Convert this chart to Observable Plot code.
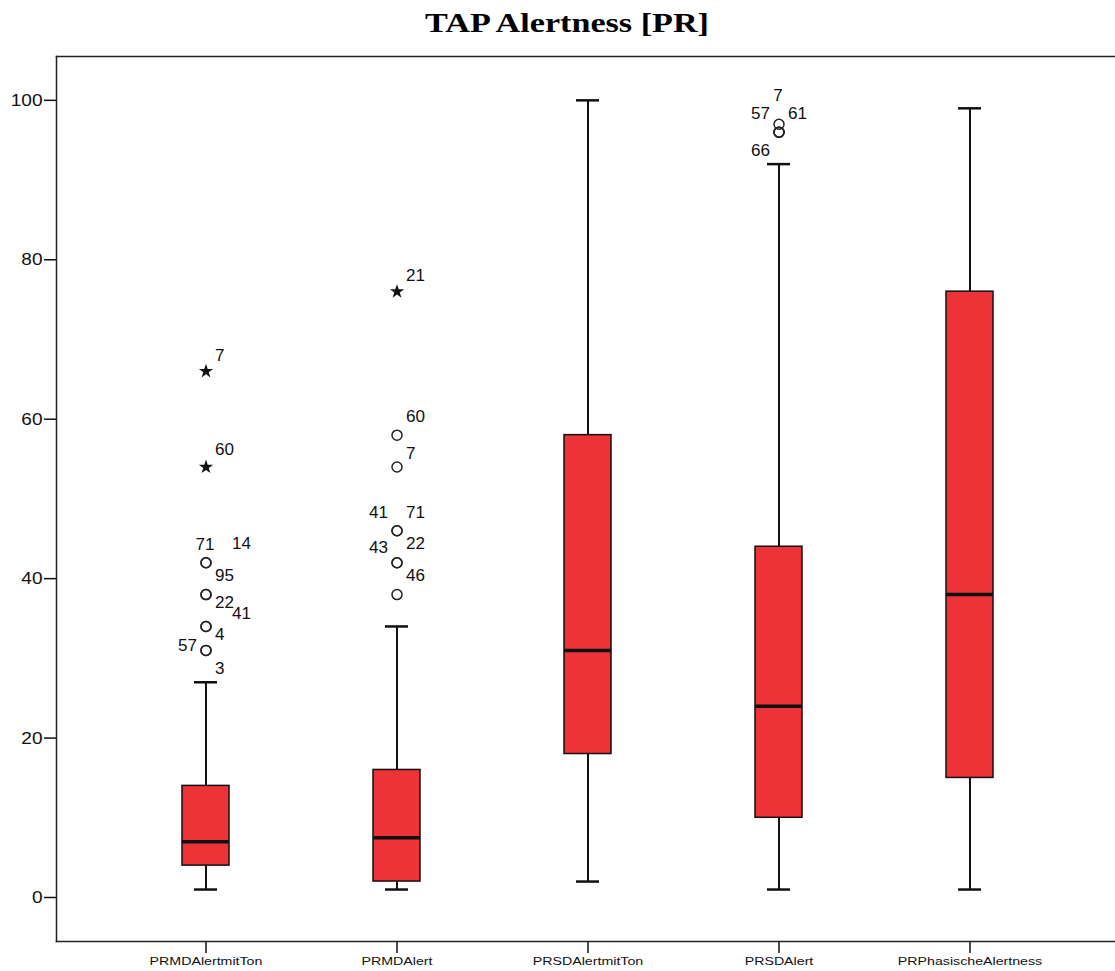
<!DOCTYPE html>
<html>
<head>
<meta charset="utf-8">
<script src="https://cdn.jsdelivr.net/npm/d3@7"></script>
<script src="https://cdn.jsdelivr.net/npm/@observablehq/plot@0.6"></script>
<style>
  html, body { margin: 0; padding: 0; background: #fff; overflow: hidden; }
  #title { position: relative; width: 1115px; height: 52px; overflow: hidden; }
  #title span {
    position: absolute; left: 567px; top: 9px;
    transform: translateX(-50%) scaleX(1.22);
    font-family: "Liberation Serif", "Times New Roman", serif;
    font-weight: bold; font-size: 28px; line-height: 28px; white-space: nowrap; color: #000;
  }
  #chart { width: 1115px; overflow: hidden; }
</style>
</head>
<body>
<div id="title"><span>TAP Alertness [PR]</span></div>
<div id="chart"></div>
<script>
// ---- data ----
const categories = ["PRMDAlertmitTon", "PRMDAlert", "PRSDAlertmitTon", "PRSDAlert", "PRPhasischeAlertness"];
const whiskerLow  = [1, 1, 2, 1, 1];
const quartile1   = [4, 2, 18, 10, 15];
const medians     = [7, 7.5, 31, 24, 38];
const quartile3   = [14, 16, 58, 44, 76];
const whiskerHigh = [27, 34, 100, 92, 99];
const yTicks = [0, 20, 40, 60, 80, 100];

// outliers: [category index, case id, value]
const circleOutliers = [
  [0, "71", 42], [0, "14", 42], [0, "95", 38], [0, "22", 38],
  [0, "41", 34], [0, "4", 34], [0, "57", 31], [0, "3", 31],
  [1, "60", 58], [1, "7", 54], [1, "41", 46], [1, "71", 46],
  [1, "43", 42], [1, "22", 42], [1, "46", 38],
  [3, "7", 97], [3, "57", 96], [3, "61", 96], [3, "66", 96]
];
const starOutliers = [
  [0, "7", 66], [0, "60", 54], [1, "21", 76]
];
// case labels: [category index, text, value level of label, side]
const caseLabels = [
  [0, "7", 68.0, "R"], [0, "60", 56.1, "R"], [0, "71", 44.2, "C"], [0, "14", 44.3, "RR"],
  [0, "95", 40.4, "R"], [0, "22", 36.9, "R"], [0, "41", 35.6, "RR"], [0, "4", 32.9, "R"],
  [0, "57", 31.6, "L"], [0, "3", 28.7, "R"],
  [1, "21", 78.0, "R"], [1, "60", 60.3, "R"], [1, "7", 55.7, "R"], [1, "41", 48.2, "L"],
  [1, "71", 48.2, "R"], [1, "43", 43.8, "L"], [1, "22", 44.4, "R"], [1, "46", 40.4, "R"],
  [3, "7", 100.6, "C"], [3, "57", 98.3, "L"], [3, "61", 98.3, "R"], [3, "66", 93.6, "L"]
];

// ---- tables for Plot ----
const boxes = categories.map((c, i) => ({
  cat: c, low: whiskerLow[i], q1: quartile1[i], med: medians[i], q3: quartile3[i], high: whiskerHigh[i]
}));
const circles = circleOutliers.map(([g, id, v]) => ({cat: categories[g], id, v}));
const stars = starOutliers.map(([g, id, v]) => ({cat: categories[g], id, v}));
const labels = caseLabels.map(([g, t, v, side]) => ({cat: categories[g], t, v, side}));

const ink = "#111";
const textOpts = {x: "cat", y: "v", text: "t", fontSize: 16, fill: ink};
const frameStyle = {stroke: "#222", strokeWidth: 1.5};

const plot = Plot.plot({
  width: 1115,
  height: 919,
  marginTop: 4,
  marginBottom: 30,
  marginLeft: 56,
  marginRight: -4,
  style: {fontFamily: "Liberation Sans, Arial, sans-serif", background: "#fff", color: ink, overflow: "hidden"},
  x: {type: "band", domain: categories, paddingInner: 0.7542, paddingOuter: 0.6561, label: null},
  y: {domain: [-5.52, 105.5], label: null},
  marks: [
    Plot.axisY({ticks: yTicks, tickSize: 12, tickPadding: 2, fontSize: 17, label: null, strokeWidth: 1.5}),
    Plot.axisX({tickSize: 12, tickPadding: 4, fontSize: 11, label: null, strokeWidth: 1.5}),
    Plot.ruleX(boxes, {x: "cat", y1: "q3", y2: "high", stroke: ink, strokeWidth: 2}),
    Plot.ruleX(boxes, {x: "cat", y1: "low", y2: "q1", stroke: ink, strokeWidth: 2}),
    Plot.tickY(boxes, {x: "cat", y: "high", insetLeft: 12, insetRight: 12, stroke: ink, strokeWidth: 2.5}),
    Plot.tickY(boxes, {x: "cat", y: "low", insetLeft: 12, insetRight: 12, stroke: ink, strokeWidth: 2.5}),
    Plot.barY(boxes, {x: "cat", y1: "q1", y2: "q3", fill: "#ee3338", stroke: ink, strokeWidth: 1.5}),
    Plot.tickY(boxes, {x: "cat", y: "med", stroke: ink, strokeWidth: 3.5}),
    Plot.dot(circles, {x: "cat", y: "v", r: 5, stroke: "#222", strokeWidth: 1.5, fill: "none"}),
    Plot.dot(stars, {x: "cat", y: "v", symbol: "star", r: 4.5, fill: ink, stroke: "none"}),
    Plot.text(labels.filter(d => d.side === "R"), {...textOpts, textAnchor: "start", dx: 9}),
    Plot.text(labels.filter(d => d.side === "RR"), {...textOpts, textAnchor: "start", dx: 26}),
    Plot.text(labels.filter(d => d.side === "L"), {...textOpts, textAnchor: "end", dx: -9}),
    Plot.text(labels.filter(d => d.side === "C"), {...textOpts, textAnchor: "middle", dx: -1}),
    // open frame: the reference shows no right-hand side
    Plot.frame({...frameStyle, anchor: "left"}),
    Plot.frame({...frameStyle, anchor: "top"}),
    Plot.frame({...frameStyle, anchor: "bottom"})
  ]
});
document.getElementById("chart").appendChild(plot);

// horizontal stretch of text, as in the reference rendering
function stretch(selector, factor) {
  plot.querySelectorAll(selector).forEach(t => {
    const len = t.getComputedTextLength();
    if (len > 0) {
      t.setAttribute("textLength", (len * factor).toFixed(1));
      t.setAttribute("lengthAdjust", "spacingAndGlyphs");
    }
  });
}
stretch('g[aria-label="y-axis tick label"] text', 1.12);
stretch('g[aria-label="x-axis tick label"] text', 1.29);
stretch('g[aria-label="text"] text', 1.07);
</script>
</body>
</html>
